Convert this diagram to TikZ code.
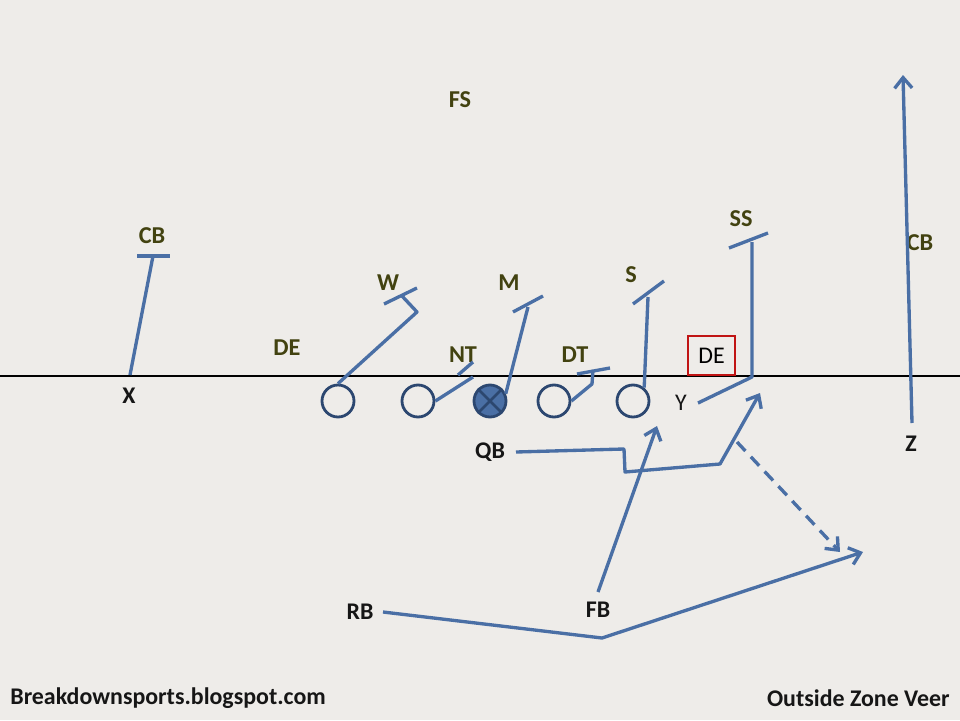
\documentclass[tikz,border=0pt]{standalone}
\usepackage{fontspec}
\setmainfont{Carlito}
\usetikzlibrary{arrows.meta}
\definecolor{bg}{RGB}{238,236,233}
\definecolor{routec}{RGB}{74,111,165}
\definecolor{olin}{RGB}{44,71,112}
\definecolor{defc}{RGB}{66,66,16}
\definecolor{offc}{RGB}{22,22,22}
\definecolor{boxred}{RGB}{192,20,20}
\tikzset{
  deflabel/.style={text=defc, font=\fontsize{13.8}{16}\selectfont\bfseries, inner sep=0},
  offlabel/.style={text=offc, font=\fontsize{13.6}{16}\selectfont\bfseries, inner sep=0},
  offreg/.style={text=offc, font=\fontsize{13.6}{16}\selectfont, inner sep=0},
  player/.style={circle, draw=olin, line width=1.6pt, minimum size=0.64cm, inner sep=0, fill=bg},
  routeline/.style={draw=routec, line width=1.9pt, line join=round},
  routearrow/.style={routeline, -{Straight Barb[length=6pt,width=10pt,line width=1.9pt]}},
  dashedarrow/.style={routearrow, dash pattern=on 7pt off 4.5pt},
}
\begin{document}
\begin{tikzpicture}[x=0.02cm,y=-0.02cm]
\fill[bg] (0,0) rectangle (960,720);
\useasboundingbox (0,0) rectangle (960,720);

% line of scrimmage
\coordinate (losL) at (0,376);
\coordinate (losR) at (960,376);
\draw[black, line width=1.7pt] (losL) -- (losR);

% offensive line
\node[player] (p1) at (338,401) {};
\node[player] (p2) at (418,401) {};
\node[player, fill=routec] (p3) at (490,401) {};
\draw[olin, line width=1.6pt] (p3.north west) -- (p3.south east) (p3.north east) -- (p3.south west);
\node[player] (p4) at (554,401) {};
\node[player] (p5) at (633,401) {};

% defensive labels
\node[deflabel] (fs) at (460,100) {FS};
\node[deflabel] (cbl) at (152,236) {CB};
\node[deflabel] (del) at (287,348) {DE};
\node[deflabel] (w) at (388,283) {W};
\node[deflabel] (m) at (509,283) {M};
\node[deflabel] (nt) at (463,355) {NT};
\node[deflabel] (dt) at (575,355) {DT};
\node[deflabel] (s) at (631,275) {S};
\node[deflabel] (ss) at (741,219) {SS};
\node[deflabel] (cbr) at (920,243) {CB};
\node[draw=boxred, line width=1.4pt, minimum width=0.94cm, minimum height=0.78cm, inner sep=0,
      text=black, font=\fontsize{13.6}{16}\selectfont] (der) at (711.5,355.5) {DE};

% offensive labels
\node[offlabel] (x) at (129,396) {X};
\node[offreg] (y) at (681,403) {Y};
\node[offlabel] (z) at (911,444) {Z};
\node[offlabel] (qb) at (490,452) {QB};
\node[offlabel] (rb) at (360,612) {RB};
\node[offlabel] (fb) at (598,610) {FB};

% footer
\node[offlabel, anchor=west] (site) at (10,698) {Breakdownsports.blogspot.com};
\node[offlabel, anchor=east] (title) at (950,698) {Outside Zone Veer};

% X block on CB
\coordinate (xs) at (130,375);
\coordinate (xe) at (153,256);
\coordinate (xb1) at (137,256);
\coordinate (xb2) at (170,256);
\draw[routeline] (xs) -- (xe);
\draw[routeline] (xb1) -- (xb2);

% left tackle on W
\coordinate (lt1) at (417,312);
\coordinate (lt2) at (402,296);
\coordinate (ltb1) at (384,304);
\coordinate (ltb2) at (417,288);
\draw[routeline] (p1.north) -- (lt1) -- (lt2);
\draw[routeline] (ltb1) -- (ltb2);

% left guard on NT
\coordinate (lg1) at (473,377);
\coordinate (lgb1) at (458,375);
\coordinate (lgb2) at (473,362);
\draw[routeline] (p2.east) -- (lg1);
\draw[routeline] (lgb1) -- (lgb2);

% center on M
\coordinate (c1) at (528,307);
\coordinate (cb1) at (513,312);
\coordinate (cb2) at (543,296);
\draw[routeline] (p3.25) -- (c1);
\draw[routeline] (cb1) -- (cb2);

% right guard on DT
\coordinate (rg1) at (592,384);
\coordinate (rg2) at (593,370);
\coordinate (rgb1) at (577,374);
\coordinate (rgb2) at (610,368);
\draw[routeline] (p4.east) -- (rg1) -- (rg2);
\draw[routeline] (rgb1) -- (rgb2);

% right tackle on S
\coordinate (rt1) at (648,297);
\coordinate (rtb1) at (633,304);
\coordinate (rtb2) at (664,281);
\draw[routeline] (p5.50) -- (rt1);
\draw[routeline] (rtb1) -- (rtb2);

% Y on SS
\coordinate (y0) at (698,403);
\coordinate (y1) at (752,377);
\coordinate (y2) at (752,242);
\coordinate (yb1) at (729,248);
\coordinate (yb2) at (768,233);
\draw[routeline] (y0) -- (y1) -- (y2);
\draw[routeline] (yb1) -- (yb2);

% QB path
\coordinate (q0) at (516,452);
\coordinate (q1) at (624,449);
\coordinate (q2) at (625,472);
\coordinate (q3) at (720,464);
\coordinate (q4) at (760,393);
\draw[routearrow] (q0) -- (q1) -- (q2) -- (q3) -- (q4);

% pitch option (dashed)
\coordinate (d0) at (737,442);
\coordinate (d1) at (840,552);
\draw[dashedarrow] (d0) -- (d1);

% FB path
\coordinate (f0) at (598,592);
\coordinate (f1) at (657,426);
\draw[routearrow] (f0) -- (f1);

% RB path
\coordinate (r0) at (383,612);
\coordinate (r1) at (602,638);
\coordinate (r2) at (863,552);
\draw[routearrow] (r0) -- (r1) -- (r2);

% Z route
\coordinate (z0) at (912,423);
\coordinate (z1) at (903,75);
\draw[routearrow] (z0) -- (z1);
\end{tikzpicture}
\end{document}
